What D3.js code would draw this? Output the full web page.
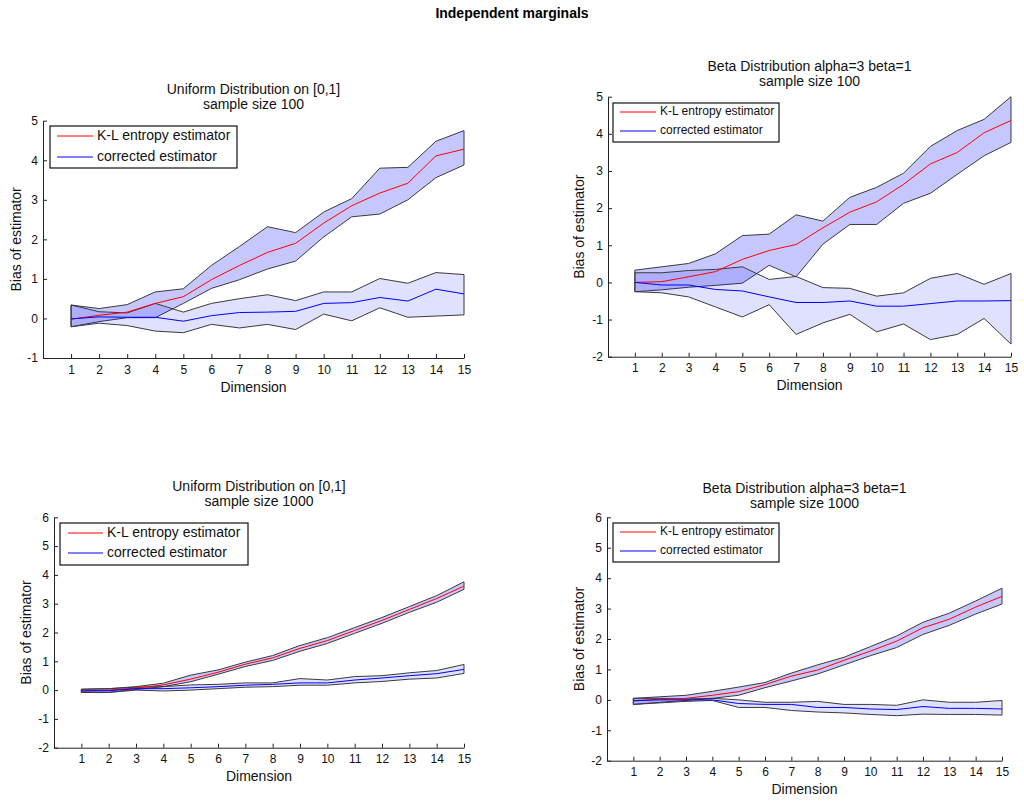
<!DOCTYPE html>
<html>
<head>
<meta charset="utf-8">
<script src="https://cdn.jsdelivr.net/npm/d3@7"></script>
<style>
body { margin:0; background:#fff; }
svg { font-family: Arial, "Liberation Sans", sans-serif; }
</style>
</head>
<body>
<svg id="fig"></svg>
<script>
//dimension values on the x axis
var dims = [1,2,3,4,5,6,7,8,9,10,11,12,13,14,15];
var legendNames = ["K-L entropy estimator", "corrected estimator"];

//uniform, sample size 100
var u100KL   = [-0.02, 0.08, 0.16, 0.38, 0.55, 0.98, 1.34, 1.67, 1.90, 2.41, 2.85, 3.17, 3.42, 4.11, 4.28];
var u100KLhi = [0.34, 0.25, 0.35, 0.67, 0.75, 1.34, 1.82, 2.32, 2.17, 2.69, 3.03, 3.80, 3.82, 4.48, 4.75];
var u100KLlo = [-0.21, -0.08, 0.02, 0.02, 0.38, 0.76, 0.98, 1.25, 1.45, 2.06, 2.57, 2.64, 3.00, 3.56, 3.88];
var u100C    = [-0.01, 0.04, 0.03, 0.03, -0.07, 0.07, 0.15, 0.16, 0.18, 0.38, 0.40, 0.53, 0.44, 0.74, 0.62];
var u100Chi  = [0.34, 0.17, 0.14, 0.38, 0.16, 0.38, 0.50, 0.60, 0.45, 0.67, 0.67, 1.01, 0.89, 1.16, 1.11];
var u100Clo  = [-0.21, -0.12, -0.18, -0.32, -0.36, -0.15, -0.24, -0.15, -0.28, 0.11, -0.06, 0.27, 0.03, 0.06, 0.09];

//beta(3,1), sample size 100
var b100KL   = [0.00, 0.02, 0.15, 0.29, 0.62, 0.86, 1.02, 1.47, 1.89, 2.17, 2.64, 3.19, 3.50, 4.03, 4.36];
var b100KLhi = [0.33, 0.42, 0.51, 0.77, 1.26, 1.30, 1.82, 1.65, 2.29, 2.56, 2.94, 3.66, 4.09, 4.39, 5.00];
var b100KLlo = [-0.25, -0.20, -0.13, -0.08, -0.02, 0.46, 0.15, 1.03, 1.56, 1.56, 2.13, 2.40, 2.91, 3.41, 3.77];
var b100C    = [0.00, -0.07, -0.07, -0.19, -0.23, -0.39, -0.54, -0.54, -0.50, -0.64, -0.64, -0.57, -0.50, -0.50, -0.49];
var b100Chi  = [0.26, 0.26, 0.32, 0.35, 0.42, 0.08, 0.16, -0.14, -0.16, -0.37, -0.28, 0.11, 0.24, -0.05, 0.24];
var b100Clo  = [-0.25, -0.28, -0.39, -0.66, -0.93, -0.60, -1.40, -1.09, -0.86, -1.33, -1.12, -1.54, -1.40, -0.97, -1.66];

//uniform, sample size 1000
var u1000KL   = [-0.03, 0.00, 0.07, 0.18, 0.38, 0.62, 0.90, 1.12, 1.45, 1.72, 2.07, 2.42, 2.80, 3.18, 3.61];
var u1000KLhi = [0.03, 0.05, 0.12, 0.24, 0.52, 0.70, 0.97, 1.20, 1.55, 1.82, 2.17, 2.52, 2.90, 3.28, 3.76];
var u1000KLlo = [-0.08, -0.08, 0.02, 0.12, 0.29, 0.55, 0.82, 1.03, 1.35, 1.62, 1.97, 2.32, 2.70, 3.05, 3.50];
var u1000C    = [-0.03, -0.02, 0.05, 0.05, 0.08, 0.12, 0.17, 0.20, 0.25, 0.25, 0.35, 0.42, 0.50, 0.57, 0.72];
var u1000Chi  = [0.03, 0.05, 0.10, 0.12, 0.18, 0.20, 0.25, 0.25, 0.40, 0.35, 0.47, 0.50, 0.60, 0.68, 0.89];
var u1000Clo  = [-0.08, -0.08, 0.00, -0.03, 0.00, 0.05, 0.10, 0.12, 0.17, 0.17, 0.25, 0.30, 0.38, 0.42, 0.58];

//beta(3,1), sample size 1000
var b1000KL   = [-0.03, 0.02, 0.05, 0.15, 0.27, 0.50, 0.78, 0.98, 1.30, 1.60, 1.93, 2.37, 2.65, 3.05, 3.40];
var b1000KLhi = [0.05, 0.10, 0.15, 0.28, 0.42, 0.57, 0.88, 1.15, 1.40, 1.75, 2.10, 2.55, 2.85, 3.25, 3.67];
var b1000KLlo = [-0.15, -0.08, -0.02, 0.05, 0.15, 0.40, 0.62, 0.85, 1.15, 1.45, 1.72, 2.15, 2.45, 2.82, 3.15];
var b1000C    = [-0.03, 0.00, 0.00, 0.00, -0.12, -0.15, -0.15, -0.25, -0.25, -0.30, -0.32, -0.22, -0.28, -0.28, -0.30];
var b1000Chi  = [0.05, 0.05, 0.03, 0.05, 0.00, -0.08, -0.08, -0.05, -0.15, -0.15, -0.18, 0.00, -0.08, -0.08, -0.02];
var b1000Clo  = [-0.15, -0.10, -0.05, -0.02, -0.25, -0.25, -0.35, -0.40, -0.43, -0.48, -0.52, -0.47, -0.48, -0.48, -0.50];

//where each subplot sits on the page
var panels = [
    {title:["Uniform Distribution on [0,1]", "sample size 100"],
     kl:[u100KL, u100KLlo, u100KLhi], cor:[u100C, u100Clo, u100Chi],
     left:43, right:464, top:120.7, bottom:358, yMin:-1, yMax:5,
     titleY:90, ylabX:17, xlabY:392,
     legend:{x:50, y:126, w:187, h:42, font:14, l0:57, l1:93, tx:97, r1:136, r2:157}},
    {title:["Beta Distribution alpha=3 beta=1", "sample size 100"],
     kl:[b100KL, b100KLlo, b100KLhi], cor:[b100C, b100Clo, b100Chi],
     left:608, right:1011, top:96.7, bottom:356.7, yMin:-2, yMax:5,
     titleY:67, ylabX:580, xlabY:390,
     legend:{x:613, y:103, w:166, h:39, font:12, l0:620, l1:656, tx:660, r1:112, r2:131}},
    {title:["Uniform Distribution on [0,1]", "sample size 1000"],
     kl:[u1000KL, u1000KLlo, u1000KLhi], cor:[u1000C, u1000Clo, u1000Chi],
     left:54, right:464, top:517.3, bottom:747.7, yMin:-2, yMax:6,
     titleY:487, ylabX:27, xlabY:781,
     legend:{x:60, y:523, w:188, h:42, font:14, l0:68, l1:103, tx:107, r1:533, r2:553}},
    {title:["Beta Distribution alpha=3 beta=1", "sample size 1000"],
     kl:[b1000KL, b1000KLlo, b1000KLhi], cor:[b1000C, b1000Clo, b1000Chi],
     left:607, right:1002, top:517.3, bottom:760.7, yMin:-2, yMax:6,
     titleY:489, ylabX:580, xlabY:794,
     legend:{x:613, y:523, w:166, h:39, font:12, l0:620, l1:656, tx:660, r1:532, r2:551}}
];

var svg = d3.select("#fig")
    .attr("width", 1024)
    .attr("height", 802);

svg.append("text")
    .attr("x", 512)
    .attr("y", 14)
    .attr("text-anchor", "middle")
    .attr("dominant-baseline", "middle")
    .style("font-size", "14px")
    .style("font-weight", "bold")
    .text("Independent marginals");

//plain integer labels with a normal hyphen for negatives
var intLabel = function(d) { return String(d); };

//draws one subplot
var drawPanel = function(p)
{
    var xScale = d3.scaleLinear()
        .domain([0, 15])
        .range([p.left, p.right]);
    var yScale = d3.scaleLinear()
        .domain([p.yMin, p.yMax])
        .range([p.bottom, p.top]);

    var g = svg.append("g");

    //shaded bands, drawn first so the mean lines sit on top
    var bands = [{s:p.kl, alpha:0.22}, {s:p.cor, alpha:0.12}];
    bands.forEach(function(b)
    {
        var area = d3.area()
            .x(function(d, i) { return xScale(dims[i]); })
            .y0(function(d, i) { return yScale(b.s[1][i]); })
            .y1(function(d, i) { return yScale(b.s[2][i]); });
        g.append("path")
            .attr("d", area(dims))
            .attr("fill", "rgba(0,0,255," + b.alpha + ")")
            .attr("stroke", "#3a3a3a")
            .attr("stroke-width", 1);
    });

    var series = [{s:p.kl[0], color:"#ff0000"}, {s:p.cor[0], color:"#0000ff"}];
    series.forEach(function(ser)
    {
        var line = d3.line()
            .x(function(d, i) { return xScale(dims[i]); })
            .y(function(d) { return yScale(d); });
        g.append("path")
            .attr("d", line(ser.s))
            .attr("fill", "none")
            .attr("stroke", ser.color)
            .attr("stroke-width", 1);
    });

    //axes with inward ticks like matlab
    var xAxis = d3.axisBottom(xScale)
        .tickValues(dims)
        .tickFormat(intLabel)
        .tickSizeInner(-4)
        .tickSizeOuter(0)
        .tickPadding(7);
    var yAxis = d3.axisLeft(yScale)
        .tickValues(d3.range(p.yMin, p.yMax + 1))
        .tickFormat(intLabel)
        .tickSizeInner(-4)
        .tickSizeOuter(0)
        .tickPadding(5);

    var xg = g.append("g")
        .attr("transform", "translate(0," + p.bottom + ")")
        .call(xAxis);
    var yg = g.append("g")
        .attr("transform", "translate(" + p.left + ",0)")
        .call(yAxis);
    [xg, yg].forEach(function(a)
    {
        a.selectAll("path,line").attr("stroke", "#222");
        a.selectAll("text")
            .attr("fill", "#111")
            .style("font-size", "12px")
            .style("font-family", "Arial, 'Liberation Sans', sans-serif");
    });

    var cx = (p.left + p.right) / 2;
    p.title.forEach(function(t, i)
    {
        g.append("text")
            .attr("x", cx)
            .attr("y", p.titleY + i * 15.5)
            .attr("text-anchor", "middle")
            .attr("dominant-baseline", "middle")
            .style("font-size", "14px")
            .attr("fill", "#111")
            .text(t);
    });

    g.append("text")
        .attr("x", cx)
        .attr("y", p.xlabY)
        .attr("text-anchor", "middle")
        .style("font-size", "14px")
        .attr("fill", "#111")
        .text("Dimension");

    g.append("text")
        .attr("transform", "translate(" + p.ylabX + "," + ((p.top + p.bottom) / 2) + ") rotate(-90)")
        .attr("text-anchor", "middle")
        .attr("dominant-baseline", "middle")
        .style("font-size", "14px")
        .attr("fill", "#111")
        .text("Bias of estimator");

    //legend box
    var L = p.legend;
    g.append("rect")
        .attr("x", L.x)
        .attr("y", L.y)
        .attr("width", L.w)
        .attr("height", L.h)
        .attr("fill", "#fff")
        .attr("stroke", "#111")
        .attr("stroke-width", 1.2);
    var rows = [L.r1, L.r2];
    var colors = ["#ff0000", "#0000ff"];
    legendNames.forEach(function(name, i)
    {
        g.append("line")
            .attr("x1", L.l0)
            .attr("x2", L.l1)
            .attr("y1", rows[i])
            .attr("y2", rows[i])
            .attr("stroke", colors[i])
            .attr("stroke-width", 1);
        g.append("text")
            .attr("x", L.tx)
            .attr("y", rows[i])
            .attr("dominant-baseline", "middle")
            .style("font-size", L.font + "px")
            .attr("fill", "#111")
            .text(name);
    });
}

panels.forEach(drawPanel);
</script>
</body>
</html>
